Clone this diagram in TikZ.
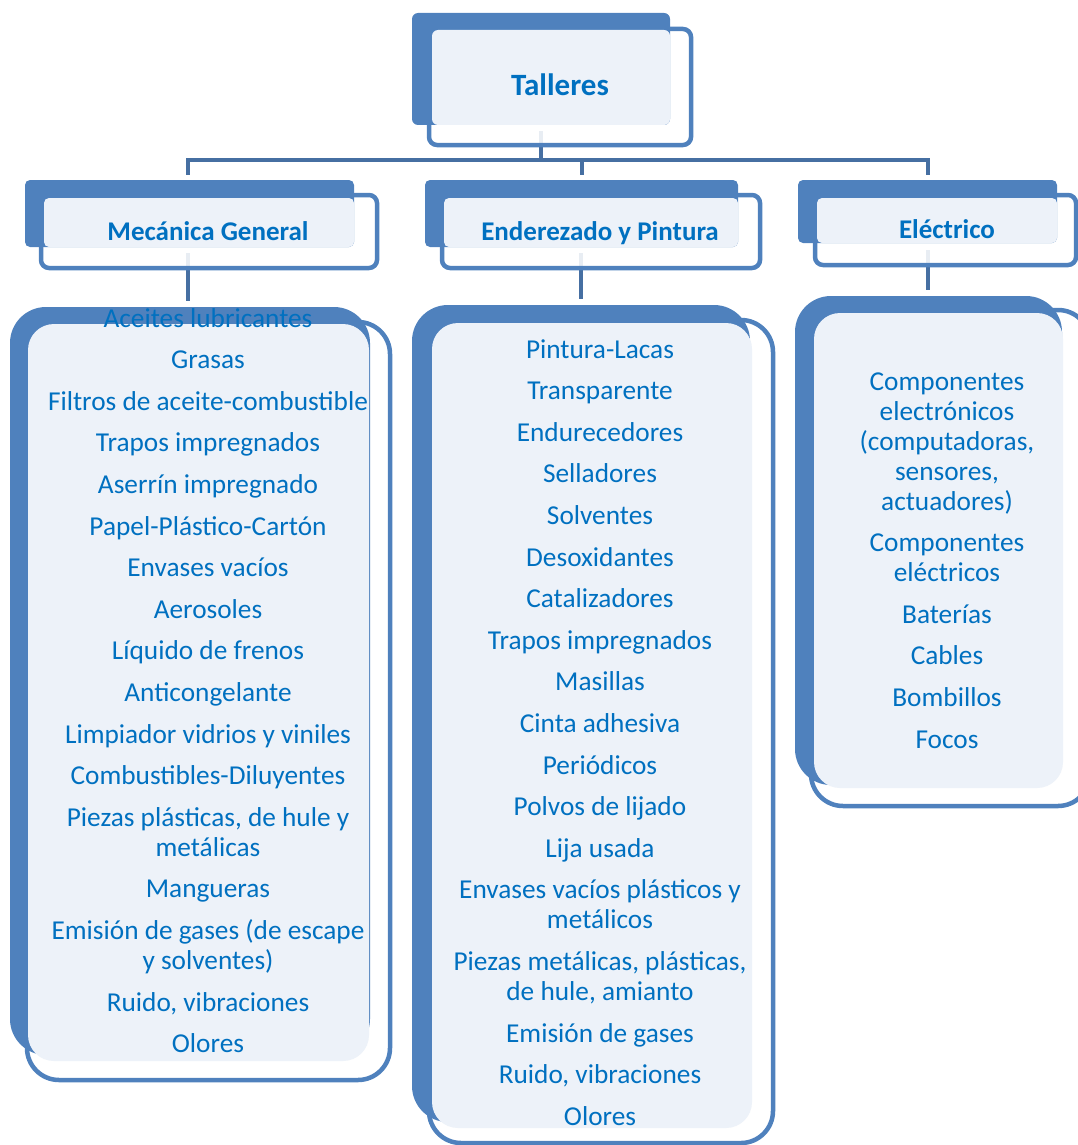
\documentclass[tikz,border=0pt]{standalone}
\usepackage{fontspec}
\setmainfont{Carlito}
\definecolor{boxblue}{HTML}{4F81BD}
\definecolor{paleblue}{HTML}{EDF2F9}
\definecolor{linkblue}{HTML}{466FA2}
\definecolor{txtblue}{HTML}{0070C0}
\begin{document}
\begin{tikzpicture}[x=1pt,y=-1pt,
  link/.style={draw=linkblue,line width=4.5pt},
  frame/.style={draw=boxblue,line width=4.5pt,fill=white,fill opacity=0.88},
  backing/.style={fill=boxblue},
  face/.style={fill=paleblue},
  head/.style={font=\fontsize{27}{30}\selectfont\bfseries,text=txtblue,anchor=base,inner sep=0pt},
  title/.style={font=\fontsize{31}{34}\selectfont\bfseries,text=txtblue,anchor=base,inner sep=0pt},
  item/.style={font=\fontsize{27.3}{30}\selectfont,text=txtblue,anchor=base,align=center,inner sep=0pt}]
\useasboundingbox (0,0) rectangle (1078,1145);
\clip (0,0) rectangle (1078,1145);

% anchor points of the connectors
\coordinate (talB) at (541,131);
\coordinate (bus) at (0,160);
\coordinate (mecT) at (188,175);
\coordinate (enzT) at (582,175);
\coordinate (eleT) at (928,175);
\coordinate (mecB) at (188,253);
\coordinate (enzB) at (581,253);
\coordinate (eleB) at (928,250);
\coordinate (mecL) at (188,301);
\coordinate (enzL) at (581,299);
\coordinate (eleL) at (928,290);

% connectors
\draw[link] (talB) -- (talB |- bus);
\draw[link,line cap=rect] (mecT |- bus) -- (eleT |- bus);
\draw[link] (mecT |- bus) -- (mecT);
\draw[link] (enzT |- bus) -- (enzT);
\draw[link] (eleT |- bus) -- (eleT);
\draw[link] (mecB) -- (mecL);
\draw[link] (enzB) -- (enzL);
\draw[link] (eleB) -- (eleL);

% Talleres
\draw[frame,rounded corners=8] (429,29) rectangle (691,145);
\fill[backing,rounded corners=6] (412,13) rectangle (670,125);
\fill[face,rounded corners=6] (432,30) rectangle (670,125);

% section headers
\draw[frame,rounded corners=8] (41,195) rectangle (377,268);
\fill[backing,rounded corners=5] (25,180) rectangle (354,247);
\fill[face,rounded corners=5] (44,198) rectangle (354,247);

\draw[frame,rounded corners=8] (442,195) rectangle (760,268);
\fill[backing,rounded corners=5] (425,180) rectangle (738,247);
\fill[face,rounded corners=5] (444,198) rectangle (738,247);

\draw[frame,rounded corners=8] (815,195) rectangle (1076,265);
\fill[backing,rounded corners=5] (798,180) rectangle (1057,243);
\fill[face,rounded corners=5] (817,198) rectangle (1057,243);

% item lists
\draw[frame,rounded corners=32] (27,322) rectangle (390,1080);
\fill[backing,rounded corners=36] (10,307) rectangle (370,1055);
\fill[face,rounded corners=26] (28,324) rectangle (369,1061);

\draw[frame,rounded corners=32] (429,320) rectangle (773,1143);
\fill[backing,rounded corners=36] (412,305) rectangle (750,1122);
\fill[face,rounded corners=26] (432,323) rectangle (752,1128);

\draw[frame,rounded corners=32] (811,310) rectangle (1090,806);
\fill[backing,rounded corners=36] (795,296) rectangle (1062,785);
\fill[face,rounded corners=26] (814,313) rectangle (1063,788);

% titles
\node[title] (tal) at (560,96) {Talleres};
\node[head] (mec) at (208,240) {Mecánica General};
\node[head] (enz) at (600,240) {Enderezado y Pintura};
\node[head] (ele) at (947,238) {Eléctrico};

% items (the y value is the baseline of the last line of each entry)
\foreach \yy/\lbl [count=\i] in {327/Aceites lubricantes, 368.6/Grasas,
  410.2/Filtros de aceite-combustible, 451.8/Trapos impregnados,
  493.4/Aserrín impregnado, 535/Papel-Plástico-Cartón, 576.6/Envases vacíos,
  618.2/Aerosoles, 659.8/Líquido de frenos, 701.4/Anticongelante,
  743/Limpiador vidrios y viniles, 784.6/Combustibles-Diluyentes,
  856.2/{Piezas plásticas, de hule y\\metálicas}, 897.8/Mangueras,
  969.4/{Emisión de gases (de escape\\y solventes)}, 1011/{Ruido, vibraciones},
  1052.6/Olores}
  \node[item] (mec\i) at (208,\yy) {\lbl};

\foreach \yy/\lbl [count=\i] in {358/Pintura-Lacas, 399.6/Transparente,
  441.2/Endurecedores, 482.8/Selladores, 524.4/Solventes, 566/Desoxidantes,
  607.6/Catalizadores, 649.2/Trapos impregnados, 690.8/Masillas,
  732.4/Cinta adhesiva, 774/Periódicos, 815.6/Polvos de lijado,
  857.2/Lija usada, 928.8/{Envases vacíos plásticos y\\metálicos},
  1000.4/{Piezas metálicas, plásticas,\\de hule, amianto}, 1042/Emisión de gases,
  1083.6/{Ruido, vibraciones}, 1125.2/Olores}
  \node[item] (enz\i) at (600,\yy) {\lbl};

\foreach \yy/\lbl [count=\i] in {510/{Componentes\\electrónicos\\(computadoras,\\sensores,\\actuadores)},
  581.6/{Componentes\\eléctricos}, 623.2/Baterías, 664.8/Cables,
  706.4/Bombillos, 748/Focos}
  \node[item] (ele\i) at (947,\yy) {\lbl};
\end{tikzpicture}
\end{document}
